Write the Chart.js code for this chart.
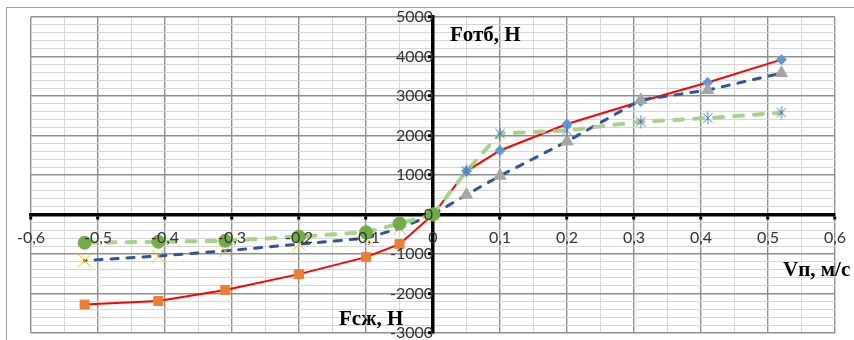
<!DOCTYPE html>
<html><head><meta charset="utf-8">
<script src="https://cdn.jsdelivr.net/npm/chart.js@4.4.1/dist/chart.umd.min.js"></script>
<style>
html,body{margin:0;padding:0;background:#fff;overflow:hidden;width:854px;height:340px;}
#frame{position:absolute;left:6px;top:7px;width:1000px;height:1000px;border:1px solid #a0a0a0;box-sizing:border-box;}
#c{position:absolute;left:0;top:0;}
</style></head><body>
<div id="frame"></div>
<canvas id="c" width="854" height="340"></canvas>
<script>
// ---- data ----
const velPos = [0, 0.05, 0.1, 0.2, 0.31, 0.41, 0.52];
const velNeg = [0, -0.05, -0.1, -0.2, -0.31, -0.41, -0.52];
const forceRedPos   = [0, 1100, 1620, 2290, 2860, 3340, 3920];
const forceRedNeg   = [0, -750, -1080, -1510, -1910, -2190, -2280];
const forceBluePos  = [0, 500, 980, 1850, 2900, 3150, 3580];
const forceBlueNeg  = [0, -350, -600, -750, -920, -1050, -1170];
const forceGreenPos = [0, 1100, 2050, 2130, 2350, 2440, 2580];
const forceGreenNeg = [0, -230, -450, -560, -665, -690, -715];
const xTickValues = [-0.6, -0.5, -0.4, -0.3, -0.2, -0.1, 0, 0.1, 0.2, 0.3, 0.4, 0.5, 0.6];
const xTickLabels = ['-0,6', '-0,5', '-0,4', '-0,3', '-0,2', '-0,1', '0', '0,1', '0,2', '0,3', '0,4', '0,5', '0,6'];
const yTickValues = [-3000, -2000, -1000, 0, 1000, 2000, 3000, 4000, 5000];
const yTickLabels = ['-3000', '-2000', '-1000', '0', '1000', '2000', '3000', '4000', '5000'];
const axisTitleY1 = 'Fотб, Н';
const axisTitleY2 = 'Fсж, Н';
const axisTitleX = 'Vп, м/с';

function idxOf(arr, v, eps) { for (let i = 0; i < arr.length; i++) if (Math.abs(arr[i] - v) < eps) return i; return -1; }
function pts(xs, ys) { return xs.map((x, i) => ({x: x, y: ys[i]})); }

function makeAsterisk(size, color) {
  const c = document.createElement('canvas'); c.width = size; c.height = size;
  const g = c.getContext('2d'); g.strokeStyle = color; g.lineWidth = 1;
  const m = size / 2, r = size / 2 - 0.5, d = r * 0.72;
  g.beginPath();
  g.moveTo(m, m - r); g.lineTo(m, m + r);
  g.moveTo(m - d, m - d); g.lineTo(m + d, m + d);
  g.moveTo(m + d, m - d); g.lineTo(m - d, m + d);
  g.stroke();
  return c;
}

const series = [
  {data: pts(velPos, forceRedPos), borderColor: '#ff0000', borderWidth: 2, borderDash: [],
   pointStyle: 'rectRot', pointRadius: 5, pointBackgroundColor: '#5b9bd5', pointBorderColor: '#5b9bd5'},
  {data: pts(velNeg, forceRedNeg), borderColor: '#ff0000', borderWidth: 2, borderDash: [],
   pointStyle: 'rect', pointRadius: 6.3, pointBackgroundColor: '#ed7d31', pointBorderColor: '#ed7d31'},
  {data: pts(velPos, forceBluePos), borderColor: '#2f5597', borderWidth: 3, borderDash: [7, 9], borderCapStyle: 'round',
   pointStyle: 'triangle', pointRadius: 7, pointBackgroundColor: '#a5a5a5', pointBorderColor: '#a5a5a5'},
  {data: pts(velNeg, forceBlueNeg), borderColor: '#2f5597', borderWidth: 3, borderDash: [7, 9], borderCapStyle: 'round',
   pointStyle: 'crossRot', pointRadius: 9, pointBackgroundColor: '#ffc000', pointBorderColor: '#ffc000', pointBorderWidth: 1},
  {data: pts(velPos, forceGreenPos), borderColor: '#a9d18e', borderWidth: 4, borderDash: [9, 11], borderCapStyle: 'round',
   pointStyle: makeAsterisk(14, '#4472c4'), pointRadius: 7, pointBackgroundColor: '#4472c4', pointBorderColor: '#4472c4'},
  {data: pts(velNeg, forceGreenNeg), borderColor: '#a9d18e', borderWidth: 4, borderDash: [9, 11], borderCapStyle: 'round',
   pointStyle: 'circle', pointRadius: 6.5, pointBackgroundColor: '#70ad47', pointBorderColor: '#70ad47'}
];
const datasets = series.map(s => Object.assign({showLine: true, tension: 0, pointBorderWidth: 1, pointHoverRadius: s.pointRadius}, s)).reverse();

const MAJOR = '#8f8f8f', MINOR = '#d6d6d6';
const isMajorX = v => idxOf(xTickValues, v, 1e-6) >= 0;
const isMajorY = v => idxOf(yTickValues, v, 1e-6) >= 0;
const noPad = s => { s.paddingLeft = 0; s.paddingRight = 0; s.paddingTop = 0; s.paddingBottom = 0; };

const titles = {
  id: 'titles',
  afterDraw(chart) {
    const ctx = chart.ctx;
    ctx.save();
    ctx.fillStyle = '#000';
    ctx.font = 'bold 21px "Liberation Serif"';
    ctx.textBaseline = 'alphabetic';
    ctx.fillText(axisTitleY1, 450, 41);
    ctx.fillText(axisTitleY2, 339, 325);
    ctx.fillText(axisTitleX, 783, 276);
    ctx.restore();
  }
};

new Chart(document.getElementById('c'), {
  type: 'scatter',
  data: {datasets: datasets},
  options: {
    responsive: false, animation: false,
    layout: {autoPadding: false, padding: {left: 31, right: 19, top: 17, bottom: 7}},
    plugins: {legend: {display: false}, tooltip: {enabled: false}},
    scales: {
      x: {
        type: 'linear', min: -0.6, max: 0.6, position: {y: 0}, afterFit: noPad,
        ticks: {stepSize: 0.05, autoSkip: false, maxRotation: 0, minRotation: 0, padding: 11, z: 1,
          color: '#333', font: {family: 'Lato', size: 16},
          callback: v => { const i = idxOf(xTickValues, v, 1e-6); return i >= 0 ? xTickLabels[i] : ''; }},
        grid: {color: c => isMajorX(c.tick.value) ? MAJOR : MINOR, lineWidth: c => isMajorX(c.tick.value) ? 1.4 : 1,
          tickLength: 3, tickWidth: 3, tickColor: c => isMajorX(c.tick.value) ? '#000' : 'rgba(0,0,0,0)'},
        border: {color: '#000', width: 3.5}
      },
      y: {
        type: 'linear', min: -3000, max: 5000, position: {x: 0}, afterFit: noPad,
        ticks: {stepSize: 200, autoSkip: false, padding: 14, z: 1,
          color: '#333', font: {family: 'Lato', size: 16, lineHeight: 0.8},
          callback: v => { const i = idxOf(yTickValues, v, 1e-6); return i >= 0 ? yTickLabels[i] : ''; }},
        grid: {color: c => isMajorY(c.tick.value) ? MAJOR : MINOR, lineWidth: c => isMajorY(c.tick.value) ? 1.4 : 1,
          tickLength: 3, tickWidth: 3, tickColor: c => isMajorY(c.tick.value) ? '#000' : 'rgba(0,0,0,0)'},
        border: {color: '#000', width: 3.5}
      }
    }
  },
  plugins: [titles]
});
</script>
</body></html>
